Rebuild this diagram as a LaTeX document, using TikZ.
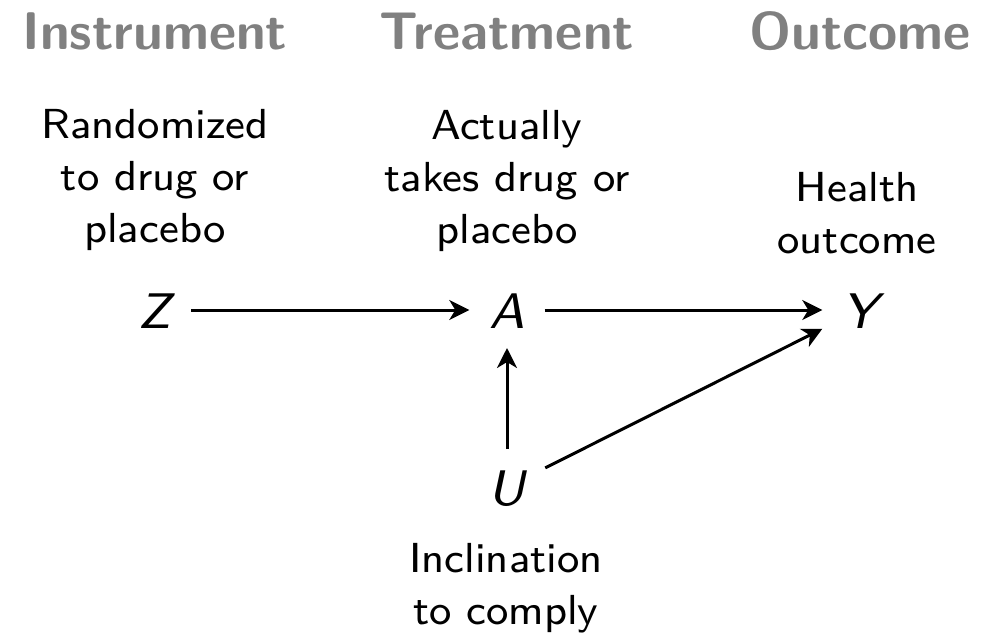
\documentclass[tikz,border=0pt]{standalone}
\usepackage{fontspec}
\usetikzlibrary{arrows.meta}
\newfontfamily\bodysans{lmsans8-regular.otf}
\newfontfamily\varsans{lmsans8-oblique.otf}
\definecolor{hdrgray}{HTML}{808080}
\tikzset{
  hdr/.style={font=\sffamily\bfseries\fontsize{53}{60}\selectfont, text=hdrgray, inner sep=0pt, anchor=base},
  lbl/.style={font=\bodysans\fontsize{42}{52}\selectfont, align=center, inner sep=0pt, anchor=base},
  var/.style={font=\varsans\fontsize{50}{56}\selectfont, inner sep=0pt, outer sep=20pt, text height=36pt, text depth=0pt, anchor=base},
  edge/.style={line width=3pt, -{Stealth[length=20pt, width=20pt, inset=6pt]}}
}
\begin{document}
\begin{tikzpicture}[x=1pt, y=-1pt]
\useasboundingbox (0,0) rectangle (996,634);
\node[hdr] (h1) at (155,49) {Instrument};
\node[hdr] (h2) at (507,49) {Treatment};
\node[hdr] (h3) at (860,49) {Outcome};
\node[lbl] (lz) at (155,242) {Randomized\\to drug or\\placebo};
\node[lbl] (la) at (507,243) {Actually\\takes drug or\\placebo};
\node[lbl] (ly) at (857,253) {Health\\outcome};
\node[lbl] (lu) at (506,624) {Inclination\\to comply};
\node[var] (Z) at (155,328) {Z};
\node[var] (A) at (507,328) {A};
\node[var] (Y) at (860,328) {Y};
\node[var] (U) at (507,505) {U};
\draw[edge] (Z) -- (A);
\draw[edge] (A) -- (Y);
\draw[edge] (U) -- (A);
\draw[edge] (U) -- (Y);
\end{tikzpicture}
\end{document}
